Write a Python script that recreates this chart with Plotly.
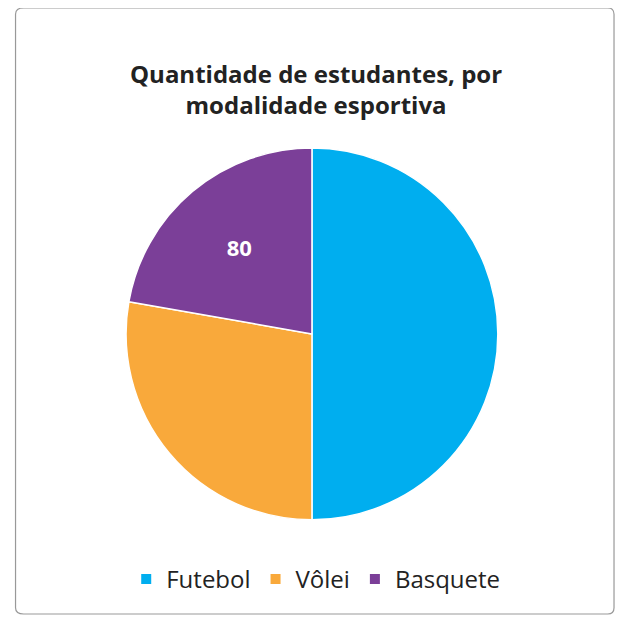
import plotly.graph_objects as go

labels = ["Futebol", "Vôlei", "Basquete"]
values = [180, 100, 80]
shown = ["", "", "<b>80</b>"]
colors = ["#00AEEF", "#F9A93B", "#7B3F98"]

fig = go.Figure(go.Pie(
    labels=labels, values=values, sort=False, direction="clockwise", rotation=0,
    marker=dict(colors=colors, line=dict(color="white", width=1.5)),
    text=shown, texttemplate="%{text}", textinfo="text", textposition="inside",
    domain=dict(x=[0.188, 0.780], y=[0.185, 0.777]),
    hoverinfo="label+value",
))
fig.update_traces(textfont=dict(family="Open Sans", size=22, color="white"))
fig.add_annotation(text="<b>Quantidade de estudantes, por<br>modalidade esportiva</b>",
                   x=0.49, y=0.925, xref="paper", yref="paper", showarrow=False,
                   font=dict(family="Open Sans", size=24, color="#222"), align="center")
fig.add_shape(type="path", xref="paper", yref="paper",
              path="M 0.025,0.035 L 0.955,0.035 Q 0.965,0.035 0.965,0.045 L 0.965,0.99 Q 0.965,1.0 0.955,1.0 L 0.025,1.0 Q 0.012,1.0 0.012,0.99 L 0.012,0.045 Q 0.012,0.035 0.025,0.035 Z",
              line=dict(color="#999", width=1.2))
fig.update_layout(
    width=628, height=628, margin=dict(l=0, r=0, t=0, b=0),
    paper_bgcolor="white", plot_bgcolor="white",
    legend=dict(orientation="h", x=0.49, xanchor="center", y=0.09, yanchor="middle",
                font=dict(family="Open Sans", size=24, color="#222"), itemsizing="constant"),
)
fig.write_html("out.html")
